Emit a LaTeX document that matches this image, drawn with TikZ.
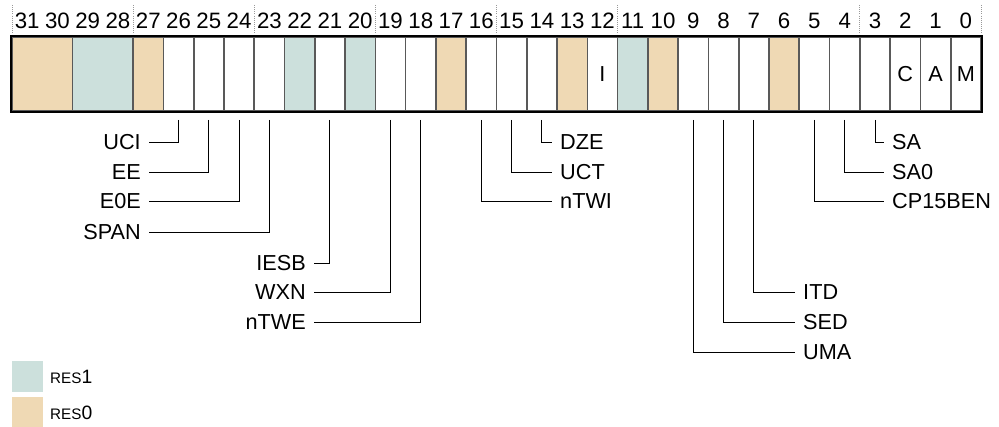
\documentclass[tikz,border=0pt]{standalone}
\usepackage{fontspec}
\setmainfont{Liberation Sans}
\usepackage{xcolor}
\definecolor{paletteTan}{HTML}{EFD9B4}
\definecolor{paletteTeal}{HTML}{CCE0DC}

\begin{document}
\begin{tikzpicture}[
  x=0.03cm, y=-0.03cm,
  font=\fontsize{18.5}{21}\selectfont,
  field/.style={draw=black!65, line width=1.4pt, inner sep=0pt, minimum height=2.22cm, text height=13.2pt, text depth=0pt},
  bitnum/.style={inner sep=0pt, text height=13.6pt, text depth=0pt, font=\fontsize{19}{21}\selectfont},
  lbl/.style={inner xsep=0.24cm, inner ysep=0pt, text height=13.2pt, text depth=0pt},
  conn/.style={draw=black, line width=0.8pt},
  tick/.style={draw=black!40, densely dotted, line width=0.8pt},
  swatch/.style={minimum size=0.93cm, inner sep=0pt}
]
\useasboundingbox (0,0) rectangle (999,427);
\def\bw{30.28}
\newcommand{\regfield}[4]{%
  \pgfmathsetmacro\fw{(#1-#2+1)*\bw*0.03}%
  \pgfmathsetmacro\fx{12+(31-#1+(#1-#2+1)/2)*\bw}%
  \node[field, fill=#3, minimum width=\fw cm] (b#1) at (\fx,74) {#4};
}
% bit numbers and dotted nibble marks
\foreach \i in {0,...,31}
  \node[bitnum] (n\i) at ({12+(31.5-\i)*\bw},21) {\i};
\foreach \k in {32,28,24,20,16,12,4,0}
  \draw[tick] ({12+(32-\k)*\bw},5) -- ++(0,31);

% register fields
\regfield{31}{30}{paletteTan}{}
\regfield{29}{28}{paletteTeal}{}
\regfield{27}{27}{paletteTan}{}
\regfield{26}{26}{white}{}
\regfield{25}{25}{white}{}
\regfield{24}{24}{white}{}
\regfield{23}{23}{white}{}
\regfield{22}{22}{paletteTeal}{}
\regfield{21}{21}{white}{}
\regfield{20}{20}{paletteTeal}{}
\regfield{19}{19}{white}{}
\regfield{18}{18}{white}{}
\regfield{17}{17}{paletteTan}{}
\regfield{16}{16}{white}{}
\regfield{15}{15}{white}{}
\regfield{14}{14}{white}{}
\regfield{13}{13}{paletteTan}{}
\regfield{12}{12}{white}{I}
\regfield{11}{11}{paletteTeal}{}
\regfield{10}{10}{paletteTan}{}
\regfield{9}{9}{white}{}
\regfield{8}{8}{white}{}
\regfield{7}{7}{white}{}
\regfield{6}{6}{paletteTan}{}
\regfield{5}{5}{white}{}
\regfield{4}{4}{white}{}
\regfield{3}{3}{white}{}
\regfield{2}{2}{white}{C}
\regfield{1}{1}{white}{A}
\regfield{0}{0}{white}{M}
\draw[line width=1.8pt] (b31.north west) rectangle (b0.south east);

% field names
\node[lbl, anchor=east] (uci) at (149,142) {UCI};
\node[lbl, anchor=east] (ee) at (149,172) {EE};
\node[lbl, anchor=east] (eoe) at (149,201) {E0E};
\node[lbl, anchor=east] (span) at (149,232) {SPAN};
\node[lbl, anchor=east] (iesb) at (314,263) {IESB};
\node[lbl, anchor=east] (wxn) at (314,292) {WXN};
\node[lbl, anchor=east] (ntwe) at (314,322) {nTWE};
\node[lbl, anchor=west] (dze) at (552,142) {DZE};
\node[lbl, anchor=west] (uct) at (552,172) {UCT};
\node[lbl, anchor=west] (ntwi) at (552,201) {nTWI};
\node[lbl, anchor=west] (itd) at (795,292) {ITD};
\node[lbl, anchor=west] (sed) at (795,322) {SED};
\node[lbl, anchor=west] (uma) at (795,352) {UMA};
\node[lbl, anchor=west] (sa) at (884,142) {SA};
\node[lbl, anchor=west] (sazero) at (884,172) {SA0};
\node[lbl, anchor=west] (cpben) at (884,201) {CP15BEN};
\foreach \b/\n in {26/uci,25/ee,24/eoe,23/span,21/iesb,19/wxn,18/ntwe,
                   14/dze,15/uct,16/ntwi,7/itd,8/sed,9/uma,3/sa,4/sazero,5/cpben}
  \draw[conn] ([yshift=-0.24cm]b\b.south) |- (\n);

% key
\node[swatch, fill=paletteTeal] (keyone) at (27.5,376.5) {};
\node[swatch, fill=paletteTan] (keyzero) at (27.5,413) {};
\node[anchor=west, inner sep=0pt, text height=11.5pt, text depth=0pt] (keyonetxt) at (50,377)
  {{\fontsize{13}{14}\selectfont RES}{\fontsize{16.5}{18}\selectfont 1}};
\node[anchor=west, inner sep=0pt, text height=11.5pt, text depth=0pt] (keyzerotxt) at (50,413)
  {{\fontsize{13}{14}\selectfont RES}{\fontsize{16.5}{18}\selectfont 0}};
\end{tikzpicture}
\end{document}
